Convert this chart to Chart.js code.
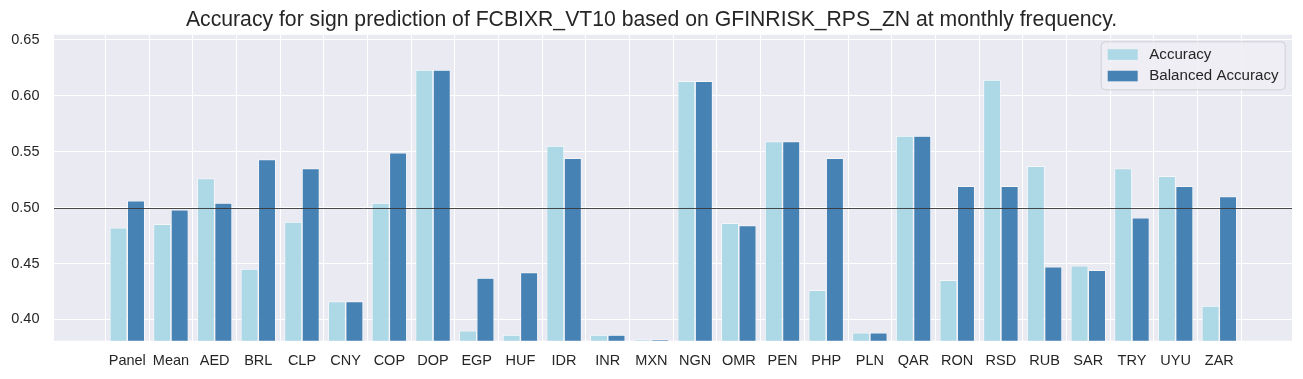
<!DOCTYPE html>
<html>
<head>
<meta charset="utf-8">
<script src="https://cdn.jsdelivr.net/npm/chart.js@4"></script>
<style>
  html, body { margin: 0; padding: 0; background: #ffffff; }
  #wrap { width: 1303px; height: 379px; position: relative; }
</style>
</head>
<body>
<div id="wrap"><canvas id="c" width="1303" height="379"></canvas></div>
<script>
const categories = ['Panel','Mean','AED','BRL','CLP','CNY','COP','DOP','EGP','HUF','IDR','INR','MXN','NGN','OMR','PEN','PHP','PLN','QAR','RON','RSD','RUB','SAR','TRY','UYU','ZAR'];
const accuracy = [0.482,0.485,0.526,0.445,0.487,0.416,0.504,0.623,0.390,0.386,0.555,0.386,0.382,0.613,0.486,0.559,0.426,0.388,0.564,0.435,0.614,0.537,0.448,0.535,0.528,0.412];
const balancedAccuracy = [0.506,0.498,0.504,0.543,0.535,0.416,0.549,0.623,0.437,0.442,0.544,0.386,0.382,0.613,0.484,0.559,0.544,0.388,0.564,0.519,0.519,0.447,0.444,0.491,0.519,0.510];
const yTicks = [0.40,0.45,0.50,0.55,0.60,0.65];
const referenceLine = 0.50;
const titleText = 'Accuracy for sign prediction of FCBIXR_VT10 based on GFINRISK_RPS_ZN at monthly frequency.';

const FONT = "'Liberation Sans', Arial, sans-serif";
const TXT = '#262626';

const bgPlugin = {
  id: 'bg',
  beforeDraw(chart) {
    const {ctx, chartArea: a} = chart;
    ctx.save();
    ctx.fillStyle = '#EAEAF2';
    ctx.fillRect(a.left, a.top, a.right - a.left, a.bottom - a.top);
    ctx.restore();
  },
  afterDatasetsDraw(chart) {
    const {ctx, chartArea: a} = chart;
    const y = Math.round(chart.scales.y.getPixelForValue(referenceLine)) + 0.5;
    ctx.save();
    ctx.strokeStyle = '#363636';
    ctx.lineWidth = 0.9;
    ctx.beginPath();
    ctx.moveTo(a.left, y);
    ctx.lineTo(a.right, y);
    ctx.stroke();
    ctx.restore();
  },
  afterDraw(chart) {
    const {ctx, chartArea: a} = chart;
    const w = 184, h = 48;
    const x0 = a.right - 7.3 - w, y0 = a.top + 6.6;
    ctx.save();
    ctx.beginPath();
    ctx.roundRect(x0 + 0.5, y0 + 0.5, w, h, 4);
    ctx.fillStyle = 'rgba(238,238,244,0.85)';
    ctx.fill();
    ctx.strokeStyle = '#cfcfd6';
    ctx.lineWidth = 1;
    ctx.stroke();
    ctx.font = '15.1px ' + FONT;
    ctx.textBaseline = 'middle';
    chart.data.datasets.forEach((ds, i) => {
      const cy = y0 + 13.2 + i * 21.5;
      ctx.fillStyle = ds.backgroundColor;
      ctx.fillRect(x0 + 7, cy - 5.3, 30, 10.6);
      ctx.fillStyle = TXT;
      ctx.fillText(ds.label, x0 + 48.6, cy);
    });
    ctx.restore();
  }
};

const xMin = -1.677, xMax = 26.664;

new Chart(document.getElementById('c'), {
  type: 'bar',
  data: {
    datasets: [
      { label: 'Accuracy', data: accuracy.map((v, i) => ({x: i, y: v})), backgroundColor: '#ADD8E6', borderColor: '#ffffff', borderWidth: 0.75, borderSkipped: 'bottom' },
      { label: 'Balanced Accuracy', data: balancedAccuracy.map((v, i) => ({x: i, y: v})), backgroundColor: '#4682B4', borderColor: '#ffffff', borderWidth: 0.75, borderSkipped: 'bottom' }
    ]
  },
  options: {
    responsive: false,
    animation: false,
    devicePixelRatio: 1,
    categoryPercentage: 0.8,
    barPercentage: 1.0,
    layout: { padding: 0 },
    plugins: {
      legend: { display: false },
      tooltip: { enabled: false },
      title: {
        display: true,
        text: titleText,
        color: TXT,
        font: { family: FONT, size: 21.2, weight: 'normal', lineHeight: 1.2 },
        padding: { top: 7.6, bottom: 1.7 }
      }
    },
    scales: {
      x: {
        type: 'linear',
        min: xMin, max: xMax,
        offset: false,
        afterBuildTicks(scale) { scale.ticks = categories.map((_, i) => ({value: i})); },
        afterFit(scale) { scale.height = 38.3; },
        grid: { color: '#ffffff', lineWidth: 1, drawTicks: false },
        border: { display: false },
        ticks: {
          autoSkip: false, maxRotation: 0, minRotation: 0, padding: 12,
          color: TXT, font: { family: FONT, size: 14.5 },
          callback: (v) => categories[v] ?? ''
        }
      },
      y: {
        min: 0.381, max: 0.6545,
        beginAtZero: false,
        afterBuildTicks(scale) { scale.ticks = yTicks.map(v => ({value: v})); },
        afterFit(scale) { scale.width = 54; },
        grid: { color: '#ffffff', lineWidth: 1, drawTicks: false },
        border: { display: false },
        ticks: {
          padding: 14.5, color: TXT, font: { family: FONT, size: 14.5 },
          callback: (v) => Number(v).toFixed(2)
        }
      },
      yRight: {
        type: 'linear',
        position: 'right',
        display: true,
        afterFit(scale) { scale.width = 11; },
        grid: { display: false, drawTicks: false },
        border: { display: false },
        ticks: { display: false }
      }
    }
  },
  plugins: [bgPlugin]
});
</script>
</body>
</html>
